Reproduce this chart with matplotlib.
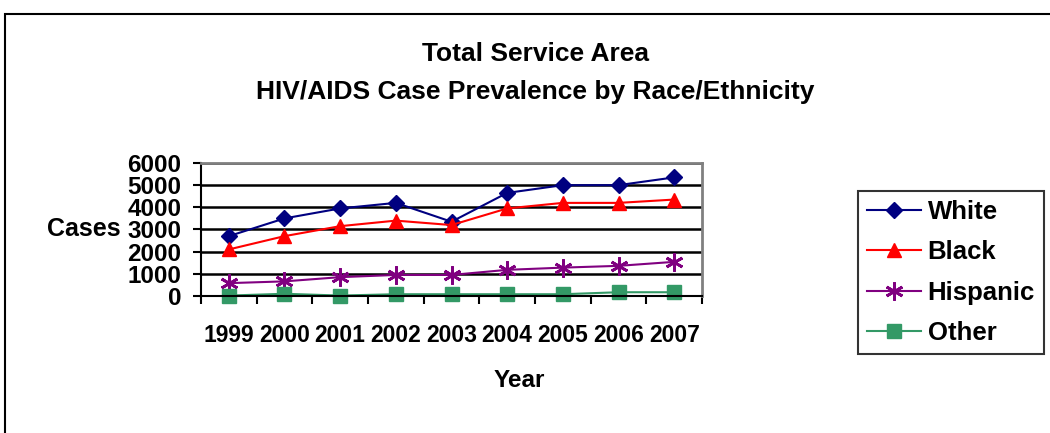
import matplotlib
matplotlib.use('Agg')
import matplotlib.pyplot as plt
from matplotlib.patches import Rectangle
from matplotlib.ticker import FixedLocator

years = ['1999', '2000', '2001', '2002', '2003', '2004', '2005', '2006', '2007']
white = [2700, 3500, 3950, 4200, 3350, 4650, 5000, 5000, 5350]
black = [2100, 2700, 3150, 3400, 3200, 3950, 4200, 4200, 4350]
hispanic = [580, 660, 850, 950, 950, 1180, 1280, 1360, 1540]
other = [20, 100, 20, 80, 80, 80, 80, 170, 170]

plt.rcParams['font.family'] = ['Liberation Sans', 'DejaVu Sans']
plt.rcParams['font.weight'] = 'bold'

fig = plt.figure(figsize=(10.5, 4.33), dpi=100)
ax = fig.add_axes([0.1914, 0.3164, 0.4772, 0.3072])

x = list(range(len(years)))
ax.plot(x, white, color='#000080', marker='D', markersize=8.5, lw=1.5, label='White', clip_on=False)
ax.plot(x, black, color='#ff0000', marker='^', markersize=10, lw=1.5, label='Black', clip_on=False)
ax.plot(x, hispanic, color='#800080', marker=(6, 2, 0), markersize=13, mew=2, lw=1.5,
        label='Hispanic', clip_on=False)
ax.plot(x, other, color='#339966', marker='s', markersize=9.5, lw=1.5, label='Other', clip_on=False)

ax.set_xlim(-0.5, 8.5)
ax.set_ylim(0, 6000)
ax.set_yticks(range(0, 6001, 1000))
ax.set_xticks(x)
ax.set_xticklabels(years, fontsize=16.5)
ax.xaxis.set_minor_locator(FixedLocator([i - 0.5 for i in range(len(years) + 1)]))
ax.tick_params(axis='x', which='major', length=0, pad=20.5)
ax.tick_params(axis='x', which='minor', length=6, width=1.5, direction='out')
ax.tick_params(axis='y', length=6, width=1.5, labelsize=17.5, pad=8)
ax.yaxis.grid(True, color='black', lw=1.8)
ax.set_axisbelow(True)
for s in ['top', 'right']:
    ax.spines[s].set_color('#808080')
    ax.spines[s].set_linewidth(2)
for s in ['left', 'bottom']:
    ax.spines[s].set_color('black')
    ax.spines[s].set_linewidth(1.5)

fig.text(0.080, 0.471, 'Cases', fontsize=18, fontweight='bold', ha='center', va='center')
fig.text(0.495, 0.121, 'Year', fontsize=17.5, fontweight='bold', ha='center', va='center')
fig.text(0.510, 0.876, 'Total Service Area', fontsize=19, fontweight='bold',
         ha='center', va='center')
fig.text(0.510, 0.788, 'HIV/AIDS Case Prevalence by Race/Ethnicity', fontsize=19,
         fontweight='bold', ha='center', va='center')

leg = fig.legend(loc='center', bbox_to_anchor=(0.9057, 0.3707), frameon=True, fancybox=False,
                 fontsize=18.5, handlelength=2.1, labelspacing=0.64, borderpad=0.35,
                 handletextpad=0.25, borderaxespad=0)
leg.get_frame().set_edgecolor('black')
leg.get_frame().set_linewidth(1.5)

fig.patches.append(Rectangle((0.005, -0.01), 1.0, 0.978, transform=fig.transFigure,
                             fill=False, edgecolor='black', lw=1.5))

fig.savefig('out.png', dpi=100)
